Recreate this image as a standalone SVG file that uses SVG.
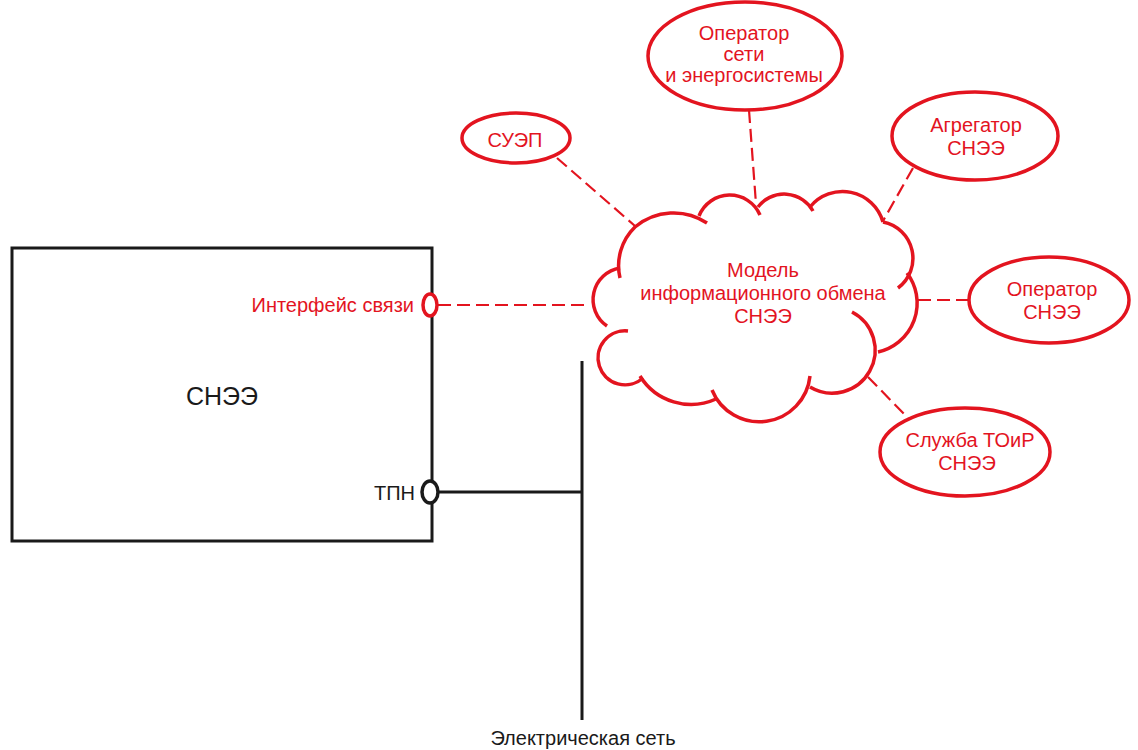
<svg xmlns="http://www.w3.org/2000/svg" width="1138" height="750" viewBox="0 0 1138 750">
<style>
.red{fill:none;stroke:#e3141f;stroke-width:3.5}
.blk{fill:none;stroke:#1a1a1a;stroke-width:3}
.dash{fill:none;stroke:#e3141f;stroke-width:2.2;stroke-dasharray:13 6}
.t{font-family:"Liberation Sans",Arial,sans-serif;font-size:20px}
.tr{fill:#e3141f}
.tb{fill:#1a1a1a}
</style>
<rect width="1138" height="750" fill="#fff"/>
<g id="connectors">
<path class="dash" d="M438 305 H590"/>
<path class="dash" d="M557 158 L635 226"/>
<path class="dash" d="M749 110 L756 204"/>
<path class="dash" d="M913 168 L883 221"/>
<path class="dash" d="M918 300 H968"/>
<path class="dash" d="M868 377 L908 418"/>
<path class="blk" d="M439 492 H582"/>
<path class="blk" d="M582 361 V720"/>
</g>
<g id="sne">
<rect x="12" y="248" width="420" height="293" class="blk"/>
<text class="t tb" x="222" y="405" text-anchor="middle" style="font-size:25px">СНЭЭ</text>
</g>
<g id="iface">
<ellipse cx="430" cy="305" rx="7" ry="11" class="red" style="fill:#fff"/>
<text class="t tr" x="414" y="312" text-anchor="end">Интерфейс связи</text>
</g>
<g id="tpn">
<ellipse cx="430" cy="492" rx="8" ry="11" class="blk" style="fill:#fff;stroke-width:3.5"/>
<text class="t tb" x="415" y="500" text-anchor="end">ТПН</text>
</g>
<g id="grid">
<text class="t tb" x="583" y="745" text-anchor="middle">Электрическая сеть</text>
</g>
<g id="cloud">
<path class="red" d="M620 278 A54 54 0 0 1 635 227 A60 60 0 0 1 707 223"/>
<path class="red" d="M699 216 A33 33 0 0 1 760 215"/>
<path class="red" d="M758 207 A33 33 0 0 1 813 211"/>
<path class="red" d="M810 207 A42 42 0 0 1 883 222"/>
<path class="red" d="M883 222 A37 37 0 0 1 898 288"/>
<path class="red" d="M907 273 A50 50 0 0 1 878 352"/>
<path class="red" d="M852 312 A43 43 0 1 1 810 387"/>
<path class="red" d="M810 376 A51 51 0 0 1 712 390"/>
<path class="red" d="M716 399 A60 60 0 0 1 640 376"/>
<path class="red" d="M643 378 A27 27 0 1 1 628 331"/>
<path class="red" d="M607 326 A32 32 0 0 1 620 268"/>
<text class="t tr" x="763" y="277" text-anchor="middle">Модель</text>
<text class="t tr" x="763" y="300" text-anchor="middle">информационного обмена</text>
<text class="t tr" x="763" y="323" text-anchor="middle">СНЭЭ</text>
</g>
<g id="suep">
<ellipse cx="516" cy="138" rx="54" ry="25" class="red"/>
<text class="t tr" x="515" y="147" text-anchor="middle">СУЭП</text>
</g>
<g id="grid-operator">
<ellipse cx="745" cy="56" rx="97" ry="54" class="red"/>
<text class="t tr" x="744" y="40" text-anchor="middle">Оператор</text>
<text class="t tr" x="744" y="61" text-anchor="middle">сети</text>
<text class="t tr" x="744" y="82" text-anchor="middle">и энергосистемы</text>
</g>
<g id="aggregator">
<ellipse cx="975" cy="136" rx="83" ry="44" class="red"/>
<text class="t tr" x="976" y="132" text-anchor="middle">Агрегатор</text>
<text class="t tr" x="976" y="155" text-anchor="middle">СНЭЭ</text>
</g>
<g id="operator">
<ellipse cx="1049" cy="300" rx="80" ry="43" class="red"/>
<text class="t tr" x="1052" y="296" text-anchor="middle">Оператор</text>
<text class="t tr" x="1052" y="319" text-anchor="middle">СНЭЭ</text>
</g>
<g id="service">
<ellipse cx="965" cy="452" rx="85" ry="44" class="red"/>
<text class="t tr" x="970" y="447" text-anchor="middle">Служба ТОиР</text>
<text class="t tr" x="967" y="470" text-anchor="middle">СНЭЭ</text>
</g>
</svg>
